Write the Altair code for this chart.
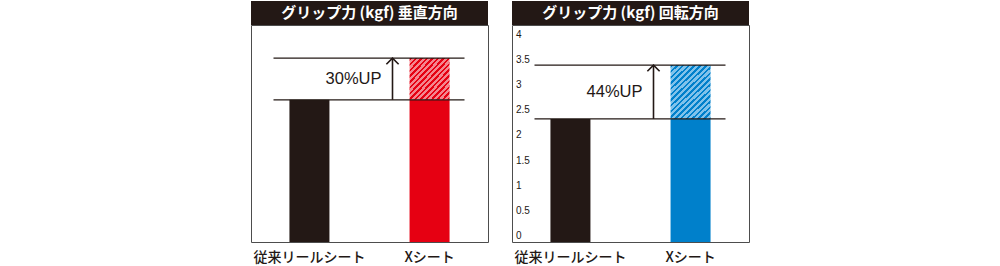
import altair as alt
import pandas as pd

# ---- data ----
categories = ["従来リールシート", "Xシート"]
vertical_values = [2.83, 3.66]       # グリップ力 垂直方向
rotation_values = [2.45, 3.52]       # グリップ力 回転方向
panel_titles = ["グリップ力 (kgf) 垂直方向", "グリップ力 (kgf) 回転方向"]
up_labels = ["30%UP", "44%UP"]
y_ticks = [0, 0.5, 1, 1.5, 2, 2.5, 3, 3.5, 4]
y_tick_labels = ["0", "0.5", "1", "1.5", "2", "2.5", "3", "3.5", "4"]

DARK = "#231815"
PANEL_W = 237
PANEL_H = 217
JP = "Noto Sans CJK JP"
LAT = "Liberation Sans"


def stripe_gradient(c_dark, c_light, period, x2, y2, frac=0.45):
    stops = []
    t = 0.0
    while t < 1.0:
        a = min(t + period * frac, 1.0)
        b = min(t + period, 1.0)
        stops += [alt.GradientStop(offset=t, color=c_dark), alt.GradientStop(offset=a, color=c_dark),
                  alt.GradientStop(offset=a, color=c_light), alt.GradientStop(offset=b, color=c_light)]
        t = b
    return alt.LinearGradient(gradient="linear", stops=stops, x1=0, y1=0, x2=x2, y2=y2)


def panel(values, title, up_label, c_solid, c_light, show_ticks, period, gx2, gy2):
    base_v, top_v = values
    old = pd.DataFrame({"cat": [categories[0]], "start": [0], "end": [base_v]})
    new = pd.DataFrame({"cat": [categories[1]], "start": [0], "end": [base_v]})
    hatch = pd.DataFrame({"cat": [categories[1]], "start": [base_v], "end": [top_v]})
    lines = pd.DataFrame({"v": [base_v, top_v]})
    arrow = pd.DataFrame({"lo": [base_v], "hi": [top_v], "mid": [(base_v + top_v) / 2], "lab": [up_label]})

    ysc = alt.Scale(domain=[0, 4.318], nice=False, zero=True)
    xsc = alt.Scale(domain=categories, paddingInner=0.667, paddingOuter=0.32)
    xax = alt.Axis(title=None, labelAngle=0, labelFontSize=14, labelFont=JP, labelColor=DARK,
                   labelPadding=8, domain=False, ticks=False, grid=False, labelFontWeight=500)

    bar_old = alt.Chart(old).mark_bar(color=DARK).encode(
        x=alt.X("cat:N", scale=xsc, axis=xax, sort=categories),
        y=alt.Y("start:Q", scale=ysc, axis=None),
        y2="end:Q",
    )
    bar_new = alt.Chart(new).mark_bar(color=c_solid).encode(
        x=alt.X("cat:N", scale=xsc, sort=categories),
        y=alt.Y("start:Q", scale=ysc),
        y2="end:Q",
    )
    hatched = alt.Chart(hatch).mark_bar(color=stripe_gradient(c_solid, c_light, period, gx2, gy2)).encode(
        x=alt.X("cat:N", scale=xsc, sort=categories),
        y=alt.Y("start:Q", scale=ysc),
        y2="end:Q",
    )
    hlines = alt.Chart(lines).mark_rule(color=DARK, strokeWidth=1.2).encode(
        x=alt.value(22.5), x2=alt.value(213.5), y=alt.Y("v:Q", scale=ysc))
    shaft = alt.Chart(arrow).mark_rule(color=DARK, strokeWidth=1.6).encode(
        x=alt.value(141.5), y=alt.Y("lo:Q", scale=ysc), y2="hi:Q")
    head = alt.Chart(arrow).mark_point(shape="M-1,1L0,0L1,1", size=150, filled=False,
                                       color=DARK, strokeWidth=1.6, opacity=1).encode(
        x=alt.value(141.5), y=alt.Y("hi:Q", scale=ysc))
    uptext = alt.Chart(arrow).mark_text(font=LAT, fontSize=16.5, color=DARK, align="center",
                                        baseline="middle").encode(
        x=alt.value(102.5), y=alt.Y("mid:Q", scale=ysc), text="lab:N")
    tbar = alt.Chart(pd.DataFrame({"t": [title]})).mark_rect(color=DARK, clip=False).encode(
        x=alt.value(0), x2=alt.value(PANEL_W), y=alt.value(-24), y2=alt.value(0))
    ttext = alt.Chart(pd.DataFrame({"t": [title]})).mark_text(
        font=JP, fontSize=15, fontWeight="bold", color="white", align="center", baseline="middle").encode(
        x=alt.value(PANEL_W / 2), y=alt.value(-12), text="t:N")

    layers = [bar_old, bar_new, hatched, hlines, shaft, head, uptext, tbar, ttext]
    if show_ticks:
        tdf = pd.DataFrame({"v": y_ticks, "lab": y_tick_labels})
        ticks = alt.Chart(tdf).mark_text(font=LAT, fontSize=10, color=DARK, align="left",
                                         baseline="alphabetic", dy=-3).encode(
            x=alt.value(4), y=alt.Y("v:Q", scale=ysc), text="lab:N")
        layers.append(ticks)
    return alt.layer(*layers).properties(width=PANEL_W, height=PANEL_H)


left = panel(vertical_values, panel_titles[0], up_labels[0], "#e60012", "#f3858e", False, 0.069, 1, 1)
right = panel(rotation_values, panel_titles[1], up_labels[1], "#0080cb", "#80c2ea", True, 0.05, 1, 1.385)

chart = alt.hconcat(left, right, spacing=22).properties(
    padding={"left": 250, "top": 0, "right": 0, "bottom": 0},
    background="white",
).configure_view(stroke="#4d4d4d", strokeWidth=1)

chart.save("out.html", embed_options={"renderer": "svg", "actions": False})
